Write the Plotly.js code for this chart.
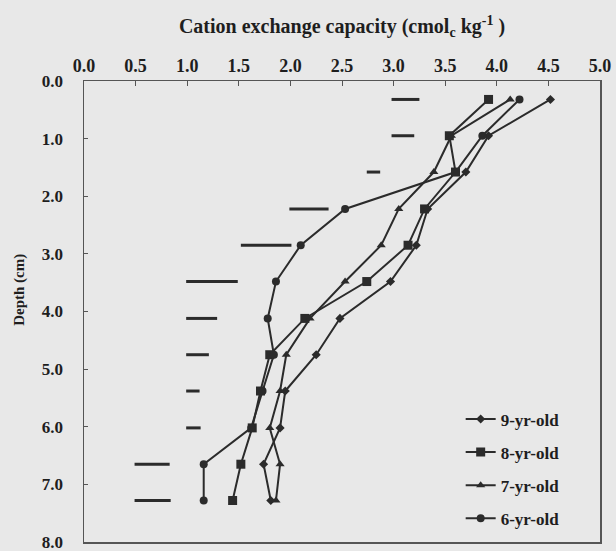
<!DOCTYPE html>
<html>
<head>
<meta charset="utf-8">
<script src="https://cdn.plot.ly/plotly-3.0.1.min.js"></script>
<style>html,body{margin:0;padding:0;background:#e8e8e8;}#chart{width:616px;height:551px;}</style>
</head>
<body>
<div id="chart"></div>
<script>
// Depth of each sampled layer (cm)
var depths = [0.32, 0.95, 1.58, 2.22, 2.85, 3.48, 4.12, 4.75, 5.38, 6.02, 6.65, 7.28];
var seriesNames = ["9-yr-old", "8-yr-old", "7-yr-old", "6-yr-old"];
var cec9 = [4.52, 3.92, 3.70, 3.33, 3.22, 2.97, 2.48, 2.25, 1.95, 1.90, 1.74, 1.81];
var cec8 = [3.92, 3.54, 3.60, 3.30, 3.14, 2.74, 2.14, 1.80, 1.71, 1.63, 1.52, 1.44];
var cec7 = [4.13, 3.56, 3.39, 3.05, 2.88, 2.53, 2.19, 1.96, 1.90, 1.80, 1.90, 1.86];
var cec6 = [4.22, 3.86, 3.60, 2.53, 2.10, 1.86, 1.78, 1.84, 1.73, 1.62, 1.16, 1.16];
// LSD bars: left and right ends at each depth
var lsdLeft  = [2.98, 2.98, 2.74, 1.99, 1.52, 0.99, 0.99, 0.99, 0.99, 0.99, 0.49, 0.49];
var lsdRight = [3.25, 3.20, 2.87, 2.37, 2.01, 1.49, 1.29, 1.21, 1.12, 1.13, 0.83, 0.84];
var xTicks = [0, 0.5, 1, 1.5, 2, 2.5, 3, 3.5, 4, 4.5, 5];
var xTickText = ["0.0","0.5","1.0","1.5","2.0","2.5","3.0","3.5","4.0","4.5","5.0"];
var yTicks = [0, 1, 2, 3, 4, 5, 6, 7, 8];
var yTickText = ["0.0","1.0","2.0","3.0","4.0","5.0","6.0","7.0","8.0"];
var xTitle = "Cation exchange capacity (cmol<sub>c</sub> kg<sup>-1</sup> )";
var yTitle = "Depth (cm)";

var ink = "#2b2b2b";
var serif = "Liberation Serif, Times New Roman, serif";

var barX = [], barY = [];
for (var i = 0; i < depths.length; i++) {
  barX.push(lsdLeft[i], lsdRight[i], null);
  barY.push(depths[i], depths[i], null);
}

var symbols = ["diamond", "square", "triangle-up", "circle"];
var sizes = [7, 9, 8, 8];
var vals = [cec9, cec8, cec7, cec6];
var traces = [{
  x: barX, y: barY, mode: "lines", showlegend: false, hoverinfo: "skip",
  line: {color: ink, width: 3}
}];
for (var s = 0; s < 4; s++) {
  traces.push({
    x: vals[s], y: depths, name: seriesNames[s], mode: "lines+markers",
    legendgroup: "g" + s,
    line: {color: ink, width: 2},
    marker: {symbol: symbols[s], size: sizes[s], color: ink}
  });
}

var layout = {
  width: 616, height: 551,
  margin: {l: 84, r: 16, t: 81, b: 9},
  paper_bgcolor: "#e8e8e8", plot_bgcolor: "#e8e8e8",
  font: {family: serif, color: "#1e1e1e", size: 17},
  showlegend: true,
  legend: {
    x: 0.73, y: 0.305, xanchor: "left", yanchor: "top",
    bgcolor: "rgba(0,0,0,0)", borderwidth: 0,
    tracegroupgap: 8,
    font: {family: serif, size: 17, color: "#1e1e1e", weight: "bold"}
  },
  xaxis: {
    side: "top", range: [0, 5], tickvals: xTicks, ticktext: xTickText,
    showgrid: false, zeroline: false, showline: true, mirror: true,
    linecolor: "#555", linewidth: 1.5,
    ticks: "inside", ticklen: 5, tickcolor: "#555",
    ticklabeloverflow: "allow",
    tickfont: {family: serif, size: 18, weight: "bold"},
    title: {text: xTitle, font: {family: serif, size: 20, weight: "bold"}, standoff: 17}
  },
  yaxis: {
    range: [8, 0], tickvals: yTicks, ticktext: yTickText,
    showgrid: false, zeroline: false, showline: true, mirror: true,
    linecolor: "#555", linewidth: 1.5,
    ticks: "inside", ticklen: 4, tickcolor: "#555",
    ticklabelstandoff: 16,
    ticklabeloverflow: "allow",
    tickfont: {family: serif, size: 17, weight: "bold"}
  },
  annotations: [{
    text: yTitle, textangle: -90, showarrow: false,
    xref: "paper", yref: "paper", x: -0.124, y: 0.547,
    xanchor: "center", yanchor: "middle",
    font: {family: serif, size: 15, weight: "bold", color: "#1e1e1e"}
  }]
};

Plotly.newPlot("chart", traces, layout, {staticPlot: true, displayModeBar: false});
</script>
</body>
</html>
